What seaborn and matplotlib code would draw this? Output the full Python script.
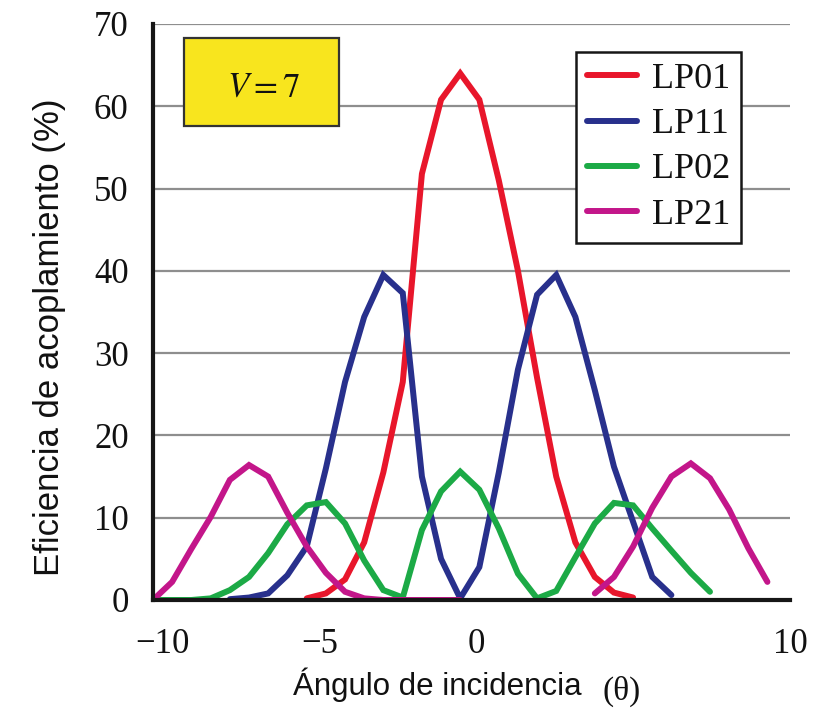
import matplotlib
matplotlib.use("Agg")
import matplotlib.pyplot as plt
from matplotlib.lines import Line2D
from matplotlib.patches import Rectangle
import pandas as pd
import seaborn as sns

# Incidence angle (degrees) of each sample
theta = [-10.30, -9.69, -9.08, -8.46, -7.85, -7.24, -6.63, -6.02, -5.40, -4.79,
         -4.18, -3.57, -2.96, -2.34, -1.73, -1.12, -0.51, 0.10, 0.72, 1.33,
         1.94, 2.55, 3.16, 3.78, 4.39, 5.00, 5.61, 6.22, 6.84, 7.45,
         8.06, 8.67, 9.28, 9.90]

# Coupling efficiency (%) per mode; None where the mode was not computed
lp01 = [None, None, None, None, None, None, None, None, 0.2, 0.8,
        2.5, 7.0, 15.5, 26.5, 51.8, 60.8, 64.0, 60.8, 51.0, 40.0,
        27.0, 15.0, 7.0, 2.8, 0.9, 0.3, None, None, None, None,
        None, None, None, None]
lp11 = [None, None, None, None, 0.1, 0.3, 0.8, 3.0, 6.5, 16.0,
        26.5, 34.4, 39.5, 37.3, 15.0, 5.0, 0.2, 4.0, 15.5, 28.0,
        37.1, 39.5, 34.4, 25.5, 16.2, 9.5, 2.8, 0.6, None, None,
        None, None, None, None]
lp02 = [0.0, 0.0, 0.0, 0.2, 1.2, 2.8, 5.7, 9.2, 11.5, 11.9,
        9.3, 4.8, 1.2, 0.3, 8.5, 13.2, 15.6, 13.4, 8.7, 3.2,
        0.2, 1.1, 5.2, 9.3, 11.8, 11.5, 8.7, 6.0, 3.3, 1.0,
        None, None, None, None]
lp21 = [0.0, 2.2, 6.2, 10.1, 14.6, 16.4, 15.0, 10.6, 6.5, 3.3,
        1.0, 0.2, 0.0, 0.0, 0.0, 0.0, 0.0, None, None, None,
        None, None, None, 0.8, 2.8, 6.5, 11.2, 15.0, 16.6, 14.8,
        11.0, 6.3, 2.2, None]

modes = ["LP01", "LP11", "LP02", "LP21"]
colors = ["#E8162B", "#28308C", "#1CAA46", "#C3168A"]
series = dict(zip(modes, [lp01, lp11, lp02, lp21]))

# Long-form table; consecutive runs of values form separate line segments
rows = []
for mode, vals in series.items():
    seg, prev = 0, None
    for t, v in zip(theta, vals):
        if v is None:
            if prev is not None:
                seg += 1
            prev = None
            continue
        rows.append({"theta": t, "eff": v, "mode": mode, "seg": f"{mode}-{seg}"})
        prev = v
df = pd.DataFrame(rows)

sns.set_theme(style="white")
plt.rcParams["font.family"] = ["Liberation Sans", "DejaVu Sans"]
plt.rcParams["mathtext.fontset"] = "stix"

W, H = 814, 710
fig = plt.figure(figsize=(W / 100, H / 100), dpi=100)
fig.patch.set_facecolor("white")
ax = fig.add_axes([153 / W, 1 - 600 / H, (790 - 153) / W, (600 - 24) / H])

LW = 4.3
sns.lineplot(data=df, x="theta", y="eff", hue="mode", hue_order=modes,
             palette=colors, units="seg", estimator=None, sort=False,
             linewidth=LW, legend=False, ax=ax)
for ln in ax.lines:
    ln.set_solid_capstyle("round")
    ln.set_solid_joinstyle("miter")

# Axes frame
for s in ["top", "right"]:
    ax.spines[s].set_visible(False)
for s in ["left", "bottom"]:
    ax.spines[s].set_linewidth(3.0)
    ax.spines[s].set_color("#161616")
    ax.spines[s].set_zorder(5)

ax.set_xlim(theta[0], theta[-1])
ax.set_ylim(0, 70)
ax.set_xlabel("")
ax.set_ylabel("")

ax.set_yticks(range(0, 71, 10))
ax.tick_params(axis="y", direction="out", length=9.5, width=2.2, pad=8,
               labelsize=25, color="#161616", labelcolor="#111111")
ax.set_xticks(theta)
ax.tick_params(axis="x", which="major", direction="out", length=5.5, width=1.9,
               color="#161616", labelbottom=False)
ax.set_xticks([-10, -5, 0, 5, 10], minor=True)
ax.set_xticklabels(["\u221210", "\u22125", "0", "5", "10"], minor=True)
ax.tick_params(axis="x", which="minor", length=0, pad=20, labelsize=25,
               labelcolor="#111111")
for lbl in ax.get_yticklabels() + ax.get_xticklabels(minor=True):
    lbl.set_fontfamily("Liberation Serif")

ax.yaxis.grid(True, color="#8e8e8e", linewidth=1.6)
ax.xaxis.grid(False)
ax.set_axisbelow(True)

# Legend
handles = [Line2D([], [], color=c, linewidth=LW, solid_capstyle="round") for c in colors]
leg = ax.legend(handles, modes, loc="upper right",
                bbox_to_anchor=(741 / W, 1 - 52 / H), bbox_transform=fig.transFigure,
                frameon=True, fancybox=False, framealpha=1, edgecolor="#161616",
                prop={"family": "Liberation Serif", "size": 26},
                handlelength=1.4, handletextpad=0.4, labelspacing=0.33,
                borderpad=0.3, borderaxespad=0)
leg.get_frame().set_linewidth(1.8)
for t in leg.get_texts():
    t.set_color("#111111")

# Parameter box
fig.patches.append(Rectangle((184 / W, 1 - 126 / H), (339 - 184) / W, (126 - 38) / H,
                             transform=fig.transFigure, facecolor="#F8E51E",
                             edgecolor="#333333", linewidth=1.6, zorder=6))
fig.text(263 / W, 1 - 87 / H, r"$V = 7$", fontsize=25, ha="center", va="center",
         color="#111111", zorder=7)

# Axis titles
fig.text(50 / W, 1 - 337 / H, "Eficiencia de acoplamiento (%)", rotation=90,
         ha="center", va="center", fontsize=25, color="#111111")
fig.text(437 / W, 1 - 695 / H, "\u00c1ngulo de incidencia", ha="center",
         va="baseline", fontsize=22.5, color="#111111")
fig.text(622 / W, 1 - 700 / H, "(\u03b8)", ha="center", va="baseline",
         fontsize=24, family="Liberation Serif", color="#111111")

fig.savefig("out.png", dpi=100)
